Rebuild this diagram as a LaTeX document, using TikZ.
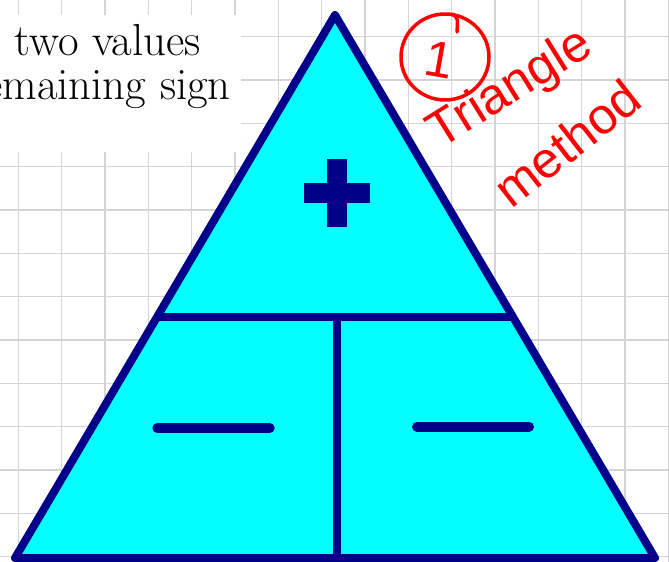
\documentclass[tikz,border=0pt]{standalone}
\usepackage{fontspec}
\newfontfamily\handfont{Liberation Sans}
\definecolor{navyline}{RGB}{0,0,139}
\definecolor{gridgray}{RGB}{212,212,212}
\definecolor{trifill}{RGB}{0,255,255}
\definecolor{inkred}{RGB}{255,0,0}
\begin{document}
\begin{tikzpicture}[x=1bp,y=-1bp,
  gridline/.style={draw=gridgray,line width=1.3bp},
  tri/.style={draw=navyline,fill=trifill,line width=8bp,line join=round},
  divider/.style={draw=navyline,line width=8bp},
  minusbar/.style={draw=navyline,line width=10bp,line cap=round},
  plussign/.style={fill=navyline},
  headtext/.style={inner sep=0pt,anchor=base east,font=\fontsize{45}{50}\selectfont\addfontfeatures{FakeBold=1.6}},
  hand/.style={text=inkred,inner sep=0pt,font=\handfont\fontsize{51}{56}\selectfont},
  handline/.style={draw=inkred,line width=3.5bp,line cap=round}]
\useasboundingbox (0,0) rectangle (669,562);
\clip (0,0) rectangle (669,562);
\fill[white] (0,0) rectangle (669,562);
% grid
\foreach \i in {0,...,15} \draw[gridline] ({18.3+43.33*\i},0) -- ({18.3+43.33*\i},562);
\foreach \j in {0,...,12} \draw[gridline] (0,{36.7+43.33*\j}) -- (669,{36.7+43.33*\j});
% text panel
\fill[white] (0,15) rectangle (241,152);
\node[headtext] (l1) at (201,56) {two values};
\node[headtext] (l2) at (231,100) {remaining sign};
% triangle
\coordinate (A) at (335,15);
\coordinate (BL) at (15,558);
\coordinate (BR) at (655,558);
\coordinate (ML) at (156.8,317.3);
\coordinate (MR) at (513.2,317.3);
\coordinate (MT) at (337.3,317.3);
\coordinate (MB) at (337.3,558);
\path[tri] (A) -- (BR) -- (BL) -- cycle;
\draw[divider] (ML) -- (MR);
\draw[divider] (MT) -- (MB);
% plus
\fill[plussign] (326.5,159.5) rectangle (346.5,227.5);
\fill[plussign] (303.5,183.5) rectangle (369.5,203.5);
% minus signs
\coordinate (m1a) at (157.3,428.3);
\coordinate (m1b) at (269.7,428.3);
\coordinate (m2a) at (417,426.7);
\coordinate (m2b) at (529,426.7);
\draw[minusbar] (m1a) -- (m1b);
\draw[minusbar] (m2a) -- (m2b);
% handwriting
\draw[handline] (445,57) ellipse [x radius=44, y radius=43];
\draw[handline] (452,14) .. controls (458,18) .. (457,32);
\node[hand,rotate=-10] (one) at (439,60) {1};
\node[hand,rotate=32] (word1) at (511,90) {Triangle};
\node[hand,rotate=38] (word2) at (567,143) {method};
\end{tikzpicture}
\end{document}
